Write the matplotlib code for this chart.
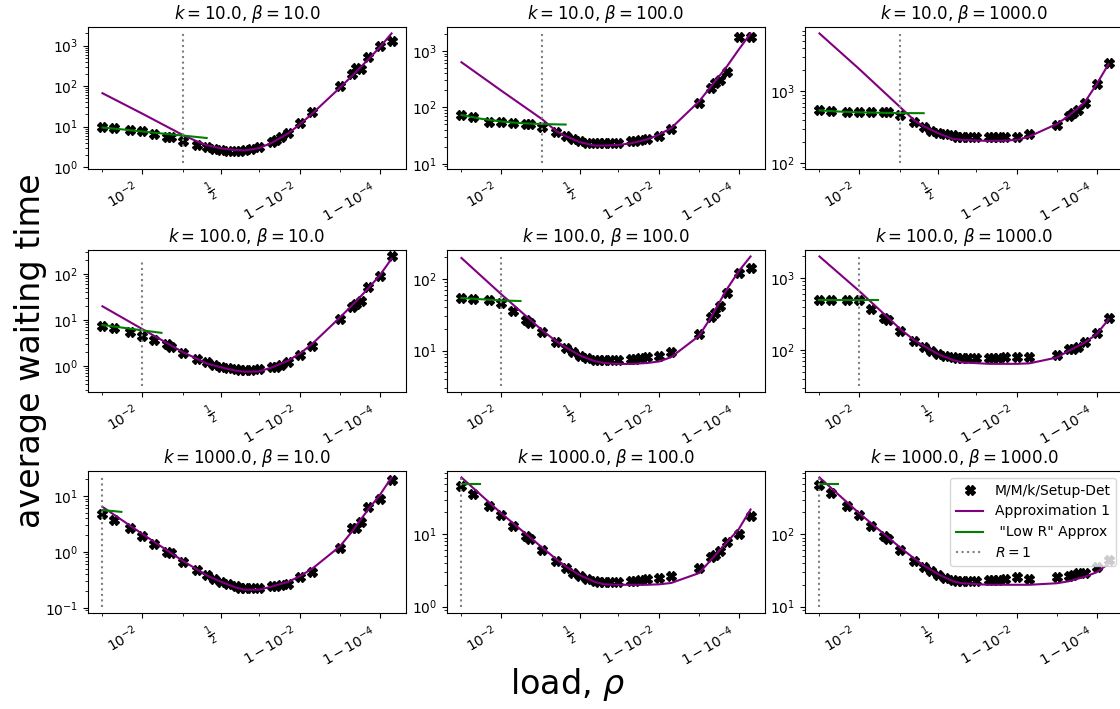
import matplotlib
matplotlib.use('Agg')
import matplotlib.pyplot as plt

ks = [10.0, 100.0, 1000.0]
betas = [10.0, 100.0, 1000.0]

# loads of the simulated points
rho = [0.001, 0.002, 0.005, 0.01, 0.02, 0.04, 0.05, 0.1, 0.2, 0.3, 0.4, 0.5,
       0.6, 0.7, 0.75, 0.8, 0.85, 0.9, 0.95, 0.96, 0.97, 0.98, 0.99, 0.995,
       0.999, 0.9995, 0.9996, 0.9997, 0.9998, 0.9999, 0.99995]

# simulated waiting times, (k, beta) row by row
sim = [
    [9.8, 9.3, 8.5, 7.6, 6.7, 5.6, 5.6, 4.35, 3.6, 3.15, 2.8, 2.6, 2.5, 2.5, 2.55, 2.7,
     2.8, 3.15, 4.1, 4.8, 5.6, 7.0, 12.3, 22.5, 101, 196, 277, 260, 515, 980, 1320],
    [74, 67, 56, 54, 53, 51, 51, 44, 36, 31, 27, 25, 23.5, 23, 23, 23,
     23, 23, 25, 25, 26, 27.5, 31.6, 41.5, 119, 219, 268, 308, 430, 1780, 1780],
    [550, 527, 510, 510, 510, 510, 510, 475, 372, 315, 285, 262, 252, 244, 236, 230,
     230, 230, 230, 230, 230, 230, 236, 252, 345, 450, 500, 560, 700, 1260, 2450],
    [7.5, 6.6, 5.3, 4.5, 3.6, 2.9, 2.6, 1.86, 1.4, 1.18, 1.05, 0.95, 0.89, 0.83, 0.8, 0.8,
     0.8, 0.83, 0.92, 0.95, 1.03, 1.18, 1.74, 2.7, 10.4, 18.8, 22, 26, 51, 88, 240],
    [54, 52, 50, 46, 35.5, 27, 24.5, 18, 13, 10.9, 9.5, 8.5, 7.9, 7.4, 7.3, 7.3,
     7.3, 7.3, 7.7, 7.7, 7.8, 8.0, 8.5, 9.5, 17, 29, 33, 42, 64, 120, 142],
    [503, 503, 503, 490, 367, 280, 258, 184, 134, 111, 98, 88, 83, 79, 78, 78,
     78, 78, 78, 78, 78, 79, 79, 79, 86, 103, 105, 111, 131, 174, 281],
    [4.7, 3.7, 2.65, 1.94, 1.4, 1.0, 0.96, 0.66, 0.47, 0.38, 0.33, 0.29, 0.265, 0.247, 0.23, 0.23,
     0.23, 0.23, 0.247, 0.25, 0.26, 0.27, 0.35, 0.44, 1.18, 2.65, 2.7, 3.4, 6.4, 8.9, 19.5],
    [46.5, 35.6, 24.6, 18.3, 13, 9.5, 8.5, 6.05, 4.3, 3.46, 2.95, 2.65, 2.44, 2.26, 2.19, 2.19,
     2.19, 2.19, 2.26, 2.26, 2.3, 2.38, 2.52, 2.65, 3.46, 4.8, 5.2, 5.8, 7.7, 10, 17.6],
    [475, 370, 246, 183, 130, 95, 85, 60.5, 43, 35, 31, 27, 25, 23, 22.4, 22.4,
     22.4, 22.4, 23, 23, 23.5, 24, 25.4, 24, 25.4, 26.5, 27.5, 28.7, 28.7, 35.5, 44],
]

# approximation 1 curve
rho_fit = [0.001, 0.01, 0.1, 0.2, 0.3, 0.5, 0.7, 0.8, 0.9, 0.95, 0.98, 0.99, 0.995,
           0.999, 0.9995, 0.9998, 0.9999, 0.99995]
approx = [
    [67, 21, 6.1, 4.3, 3.5, 2.9, 2.65, 2.6, 2.95, 4.0, 6.8, 11.6, 21, 92, 178, 445, 900, 2000],
    [630, 198, 61, 37.6, 31, 24, 21, 21, 21.5, 23, 27, 33, 43, 127, 234, 525, 1050, 2040],
    [6400, 2050, 600, 395, 328, 262, 218, 212, 208, 205, 207, 212, 236, 353, 460, 705, 1260, 2400],
    [19.7, 6.3, 1.95, 1.4, 1.12, 0.92, 0.78, 0.74, 0.75, 0.92, 1.29, 1.86, 3.0, 11.3, 20.5, 47, 92, 214],
    [195, 61, 19, 13.4, 11.1, 8.5, 7.1, 6.7, 6.5, 6.5, 6.7, 7.05, 8.1, 16, 29, 71, 127, 205],
    [1990, 660, 195, 137, 115, 88, 73, 67.5, 66, 64.5, 64.5, 64.5, 65.5, 79, 98, 127, 166, 267],
    [6.4, 2.1, 0.68, 0.48, 0.38, 0.29, 0.23, 0.21, 0.21, 0.24, 0.29, 0.37, 0.5, 1.26, 2.3, 5.6, 10.3, 21.5],
    [61, 19.5, 6.5, 4.5, 3.6, 2.7, 2.19, 2.03, 2.0, 2.0, 2.0, 2.03, 2.12, 2.9, 4.4, 7.7, 11.7, 22],
    [610, 195, 65, 46, 37, 28, 22.4, 21, 20.4, 20, 20, 20, 20, 21, 22.4, 25.8, 29.8, 39],
]

# "low R" approximation, one load grid per k
rho_low = [
    [0.001, 0.003, 0.01, 0.03, 0.1, 0.3],
    [0.001, 0.003, 0.01, 0.03],
    [0.001, 0.003],
]
low = [
    [9.5, 8.6, 7.6, 6.8, 6.0, 5.25],
    [73, 63, 56, 52.5, 50.5, 49.5],
    [545, 525, 512, 505, 500, 498],
    [7.7, 6.8, 5.9, 5.2],
    [54, 52, 50, 49],
    [500, 500, 500, 500],
    [5.6, 5.2],
    [50, 50],
    [500, 500],
]

fig = plt.figure(figsize=(11.2, 7.09), dpi=100)
lefts = [88 / 1120, 447 / 1120, 805 / 1120]
bottoms = [540 / 709, 317 / 709, 96 / 709]
w, h = 318 / 1120, 142 / 709

for i, k in enumerate(ks):
    for j, beta in enumerate(betas):
        n = 3 * i + j
        ax = fig.add_axes([lefts[j], bottoms[i], w, h])
        ax.plot(rho, sim[n], 'X', color='black', markersize=7, linestyle='none',
                label='M/M/k/Setup-Det')
        ax.plot(rho_fit, approx[n], color='purple', label='Approximation 1')
        ax.plot(rho_low[i], low[n], color='green', label=' "Low R" Approx')
        ax.vlines(1 / k, min(approx[n]) / 2, max(approx[n]), colors='gray',
                  linestyles=':', label='$R=1$')
        ax.set_xscale('logit')
        ax.set_yscale('log')
        ax.set_title(f'$k={k}$, $\\beta={beta}$')
        plt.setp(ax.get_xticklabels(), rotation=30, ha='right')
        if n == 8:
            ax.legend(loc='upper right')

fig.text(0.507, 0.035, 'load, $\\rho$', ha='center', va='center', fontsize=24)
fig.text(0.027, 0.506, 'average waiting time', ha='center', va='center',
         rotation=90, fontsize=24)
fig.savefig('out.png', dpi=100)
